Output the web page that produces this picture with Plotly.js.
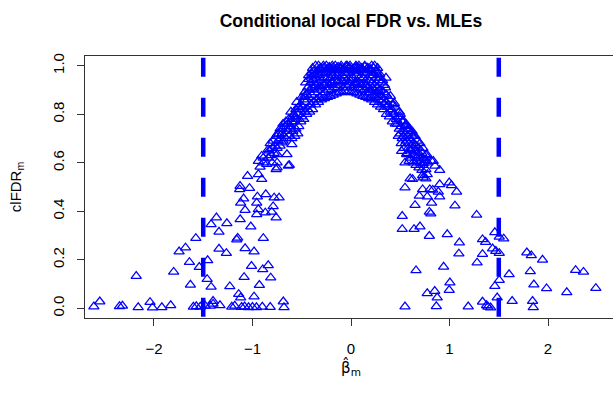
<!DOCTYPE html>
<html><head><meta charset="utf-8">
<script src="https://cdn.plot.ly/plotly-3.0.1.min.js"></script>
<style>html,body{margin:0;padding:0;overflow:hidden;background:#fff}#chart{width:617px;height:395px}</style>
</head><body><div id="chart"></div><script>
// Scattered points, left side
const leftX = [-2.61,-2.55,-2.35,-2.32,-2.18,-2.16,-2.04,-2.015,-1.92,-1.83,
  -1.80,-1.745,-1.68,-1.64,-1.63,-1.575,-1.60,-1.57,-1.53,-1.54,
  -1.46,-1.455,-1.42,-1.366,-1.42,-1.48,-1.43,-1.40,-1.33,-1.40,
  -1.34,-1.34,-1.26,-1.265,-1.23,-1.21,-1.18,-1.15,-1.14,-1.12,
  -1.13,-1.12,-1.125,-1.075,-1.085,-1.075,-1.11,-1.08,-1.04,-1.05,
  -1.03,-1.017,-1.01,-0.984,-0.984,-0.957,-0.957,-0.95,-0.94,-0.94,
  -0.906,-0.923,-1.00,-0.96,-0.93,-0.89,-0.90,-0.87,-0.865,-0.89,
  -0.89,-0.855,-0.84,-0.84,-0.896,-0.815,-0.82,-0.805,-0.79,-0.78,
  -0.76,-0.73,-0.76,-0.75,-0.687,-0.68,-0.636,-0.906,-0.94,-0.80,
  -0.626,-1.126,-1.09,-1.16,-0.75,-0.70,-0.60,-0.65,-0.75,-0.75];
const leftY = [0.007,0.028,0.008,0.010,0.133,0.004,0.025,0.003,0.004,0.012,
  0.150,0.234,0.250,0.190,0.097,0.289,0.006,0.008,0.006,0.170,
  0.120,0.198,0.346,0.374,0.088,0.010,0.010,0.018,0.012,0.030,
  0.315,0.245,0.350,0.227,0.090,0.006,0.010,0.290,0.058,0.044,
  0.490,0.435,0.367,0.247,0.128,0.405,0.005,0.007,0.004,0.545,
  0.495,0.337,0.174,0.048,0.234,0.435,0.387,0.460,0.408,0.552,
  0.532,0.583,0.005,0.004,0.096,0.289,0.006,0.394,0.470,0.600,
  0.620,0.594,0.655,0.177,0.160,0.126,0.005,0.397,0.420,0.456,
  0.374,0.456,0.573,0.600,0.028,0.004,0.587,0.628,0.607,0.600,
  0.590,0.504,0.452,0.283,0.717,0.683,0.676,0.635,0.635,0.580];

// Dense central arch
const bandX = [
  -0.84,-0.83,
  -0.81,-0.80,-0.82,
  -0.78,-0.77,-0.79,
  -0.75,-0.74,-0.76,
  -0.72,-0.71,-0.73,-0.72,
  -0.69,-0.68,-0.70,-0.69,
  -0.66,-0.65,-0.67,-0.66,
  -0.63,-0.62,-0.64,-0.63,
  -0.60,-0.59,-0.61,-0.60,-0.59,-0.61,
  -0.57,-0.56,-0.58,-0.57,-0.56,
  -0.54,-0.53,-0.55,-0.54,-0.53,-0.55,
  -0.51,-0.50,-0.52,-0.51,-0.50,
  -0.48,-0.47,-0.49,-0.48,-0.47,
  -0.45,-0.44,-0.46,-0.45,-0.44,-0.46,
  -0.42,-0.41,-0.43,-0.42,-0.41,-0.43,
  -0.39,-0.38,-0.40,-0.39,-0.38,-0.40,-0.39,
  -0.36,-0.35,-0.37,-0.36,-0.35,-0.37,-0.36,
  -0.33,-0.32,-0.34,-0.33,-0.32,-0.34,-0.33,
  -0.30,-0.29,-0.31,-0.30,-0.29,-0.31,
  -0.27,-0.26,-0.28,-0.27,-0.26,-0.28,
  -0.24,-0.23,-0.25,-0.24,-0.23,-0.25,
  -0.21,-0.20,-0.22,-0.21,-0.20,-0.22,
  -0.18,-0.17,-0.19,-0.18,-0.17,-0.19,
  -0.15,-0.14,-0.16,-0.15,-0.14,-0.16,
  -0.12,-0.11,-0.13,-0.12,-0.11,
  -0.09,-0.08,-0.10,-0.09,-0.08,-0.10,
  -0.06,-0.05,-0.07,-0.06,-0.05,
  -0.03,-0.02,-0.04,-0.03,-0.02,-0.04,
  0.00,0.01,-0.01,0.00,0.01,-0.01,
  0.03,0.04,0.02,0.03,0.04,
  0.06,0.07,0.05,0.06,0.07,0.05,
  0.09,0.10,0.08,0.09,0.10,0.08,
  0.12,0.13,0.11,0.12,0.13,0.11,
  0.15,0.16,0.14,0.15,0.16,0.14,
  0.18,0.19,0.17,0.18,0.19,0.17,
  0.21,0.22,0.20,0.21,0.22,0.20,0.21,
  0.24,0.25,0.23,0.24,0.25,0.23,0.24,
  0.27,0.28,0.26,0.27,0.28,0.26,0.27,
  0.30,0.31,0.29,0.30,0.31,0.29,
  0.33,0.34,0.32,0.33,0.34,
  0.36,0.37,0.35,0.36,0.355,
  0.39,0.40,0.38,0.39,
  0.42,0.43,0.41,0.42,
  0.45,0.46,0.44,0.45,
  0.48,0.49,0.47,0.48,0.49,
  0.51,0.52,0.50,0.51,0.52,0.50,
  0.54,0.55,0.53,0.54,0.55,0.53,
  0.57,0.58,0.56,0.57,0.58,0.56,
  0.60,0.61,0.59,0.60,0.61,0.59,
  0.63,0.64,0.62,0.63,0.64,0.62,
  0.66,0.67,0.65,0.66,0.67,0.65,
  0.69,0.70,0.68,0.69,0.70,
  0.72,0.73,0.71,0.72,0.73,
  0.75,0.76,
  0.78];
const bandY = [
  0.62,0.65,
  0.63,0.66,0.68,
  0.64,0.67,0.69,
  0.66,0.69,0.71,
  0.67,0.70,0.72,0.74,
  0.69,0.71,0.74,0.76,
  0.70,0.73,0.75,0.77,
  0.71,0.74,0.76,0.78,
  0.70,0.73,0.75,0.77,0.79,0.81,
  0.71,0.74,0.77,0.79,0.82,
  0.72,0.75,0.78,0.80,0.83,0.85,
  0.77,0.79,0.82,0.84,0.87,
  0.78,0.81,0.83,0.86,0.89,
  0.80,0.82,0.85,0.88,0.91,0.93,
  0.81,0.84,0.87,0.90,0.93,0.96,
  0.82,0.85,0.88,0.91,0.94,0.97,0.99,
  0.84,0.86,0.89,0.92,0.95,0.98,1.00,
  0.85,0.87,0.90,0.93,0.96,0.98,1.00,
  0.86,0.88,0.91,0.94,0.97,0.99,
  0.865,0.89,0.92,0.95,0.97,1.00,
  0.87,0.90,0.93,0.95,0.98,1.00,
  0.875,0.90,0.92,0.95,0.97,0.99,
  0.88,0.91,0.93,0.96,0.98,1.00,
  0.885,0.91,0.94,0.96,0.99,1.00,
  0.89,0.92,0.94,0.97,0.99,
  0.89,0.91,0.94,0.96,0.98,1.00,
  0.895,0.92,0.95,0.97,1.00,
  0.895,0.92,0.94,0.97,0.99,1.00,
  0.89,0.91,0.94,0.96,0.98,1.00,
  0.89,0.92,0.95,0.97,0.99,
  0.885,0.91,0.93,0.96,0.98,1.00,
  0.88,0.90,0.93,0.95,0.98,1.00,
  0.875,0.90,0.92,0.95,0.97,0.99,
  0.87,0.89,0.92,0.94,0.97,1.00,
  0.865,0.89,0.91,0.94,0.96,0.99,
  0.86,0.88,0.90,0.93,0.96,0.98,1.00,
  0.85,0.87,0.90,0.92,0.95,0.97,1.00,
  0.84,0.86,0.89,0.91,0.94,0.97,0.99,
  0.83,0.85,0.88,0.90,0.93,0.95,
  0.82,0.84,0.87,0.89,0.92,
  0.80,0.83,0.85,0.88,0.95,
  0.79,0.81,0.84,0.86,
  0.77,0.80,0.82,0.84,
  0.76,0.78,0.80,0.83,
  0.71,0.74,0.76,0.79,0.81,
  0.68,0.70,0.72,0.75,0.77,0.79,
  0.66,0.68,0.71,0.73,0.75,0.77,
  0.64,0.66,0.69,0.71,0.74,0.76,
  0.62,0.65,0.68,0.70,0.72,0.74,
  0.60,0.63,0.66,0.68,0.71,0.73,
  0.59,0.62,0.65,0.67,0.69,0.71,
  0.58,0.60,0.63,0.66,0.68,
  0.57,0.59,0.62,0.64,0.66,
  0.61,0.63,
  0.60];

// Extra points filling the top of the arch
const topX = [-0.43,-0.40,-0.37,-0.34,-0.31,-0.28,-0.25,-0.22,-0.19,-0.16,-0.13,-0.10,-0.07,-0.04,-0.01,
  0.02,0.05,0.08,0.11,0.14,0.17,0.20,0.23,0.26,0.29,0.32,
  -0.38,-0.32,-0.26,-0.20,-0.14,-0.08,-0.02,0.04,0.10,0.16,0.22,0.28,
  -0.47,-0.53,-0.58,-0.64,-0.70,0.35,0.40,0.44,0.50,0.56,0.62];
const topY = [0.945,0.955,0.965,0.975,0.985,0.99,0.985,0.995,0.99,0.985,0.995,0.99,0.985,0.995,0.99,
  0.985,0.995,0.99,0.985,0.995,0.99,0.985,0.99,0.98,0.965,0.94,
  0.905,0.915,0.925,0.93,0.93,0.935,0.93,0.93,0.925,0.92,0.91,0.895,
  0.875,0.83,0.80,0.76,0.72,0.91,0.875,0.845,0.80,0.755,0.71];

// Scattered points, right side
const rightX = [0.548,0.52,0.52,0.64,0.70,0.65,0.795,0.977,1.10,1.095,
  1.275,1.335,1.28,1.335,1.366,1.437,1.47,1.505,1.46,1.505,
  1.55,0.66,0.94,1.004,0.997,0.774,0.85,0.875,0.866,0.548,
  1.19,1.335,1.376,1.39,1.417,1.46,1.505,1.484,1.605,1.636,
  1.785,1.83,1.944,1.82,1.856,1.985,1.843,1.85,2.19,2.28,
  2.36,2.485,0.625,0.727,0.76,0.90,0.997,1.02,1.072,0.727,
  0.80,0.83,0.886,0.693,0.774,0.90,0.818,0.795,0.81,1.055,
  0.548,0.59,0.733,0.818,0.852,0.90,0.76,0.774,0.733,0.514,
  0.598,0.683,0.65,0.565,0.666,0.767,0.835,0.60,0.733];
const rightY = [0.497,0.380,0.326,0.326,0.337,0.425,0.298,0.305,0.271,0.225,
  0.385,0.223,0.188,0.284,0.273,0.246,0.236,0.227,0.313,0.294,
  0.287,0.156,0.171,0.106,0.075,0.062,0.071,0.044,0.008,0.007,
  0.007,0.027,0.012,0.006,0.003,0.091,0.116,0.044,0.140,0.030,
  0.230,0.218,0.200,0.152,0.098,0.082,0.030,0.004,0.066,0.157,
  0.150,0.083,0.532,0.548,0.535,0.511,0.518,0.507,0.480,0.490,
  0.490,0.488,0.480,0.463,0.460,0.460,0.435,0.397,0.390,0.423,
  0.600,0.607,0.598,0.607,0.587,0.570,0.573,0.552,0.617,0.648,
  0.655,0.642,0.672,0.635,0.607,0.635,0.607,0.535,0.539];

// Reference lines and axis ticks
const cutoffs = [-1.5, 1.5];
const xTicks = [-2, -1, 0, 1, 2];
const yTicks = [0, 0.2, 0.4, 0.6, 0.8, 1.0];
const yTickText = ['0.0', '0.2', '0.4', '0.6', '0.8', '1.0'];

const marker = {symbol: 'triangle-up-open', size: 9, color: '#0000ff', line: {color: '#0000ff', width: 1.25}};
function pts(x, y) {
  return {x: x, y: y, type: 'scatter', mode: 'markers', marker: marker, showlegend: false, hoverinfo: 'x+y'};
}
const traces = [pts(leftX, leftY), pts(bandX, bandY), pts(topX, topY), pts(rightX, rightY)];

const axisColor = '#333333';
const layout = {
  width: 617, height: 395,
  margin: {l: 85, r: 0, t: 56, b: 77},
  paper_bgcolor: '#ffffff', plot_bgcolor: '#ffffff',
  font: {family: 'Liberation Sans, Arial, sans-serif', size: 16, color: '#000000'},
  title: {text: '<b>Conditional local FDR vs. MLEs</b>', font: {size: 17.5, color: '#000000'},
    x: 0.5, xref: 'paper', xanchor: 'center', y: 1 - 21/395, yref: 'container', yanchor: 'middle'},
  xaxis: {range: [-2.70, 2.70], tickvals: xTicks, ticks: 'outside', ticklen: 7, tickcolor: axisColor,
    showline: true, linecolor: axisColor, linewidth: 1, mirror: true, showgrid: false, zeroline: false,
    ticklabelstandoff: 10, tickfont: {size: 15},
    title: {text: 'β̂<sub>m</sub>', font: {size: 15, family: 'DejaVu Sans, sans-serif'}, standoff: 6}},
  yaxis: {range: [-0.04, 1.04], tickvals: yTicks, ticktext: yTickText, tickangle: -90,
    ticks: 'outside', ticklen: 7, tickcolor: axisColor,
    showline: true, linecolor: axisColor, linewidth: 1, mirror: true, showgrid: false, zeroline: false,
    ticklabelstandoff: 7, tickfont: {size: 15},
    title: {text: 'clFDR<sub>m</sub>', font: {size: 15}, standoff: 24}},
  shapes: cutoffs.map(function (c) {
    return {type: 'line', xref: 'x', yref: 'y', x0: c, x1: c, y0: 1.033, y1: -0.04,
      line: {color: '#0000ff', width: 4.5, dash: '19px,21px'}, layer: 'above'};
  })
};

Plotly.newPlot('chart', traces, layout, {staticPlot: true, displayModeBar: false});
</script></body></html>
